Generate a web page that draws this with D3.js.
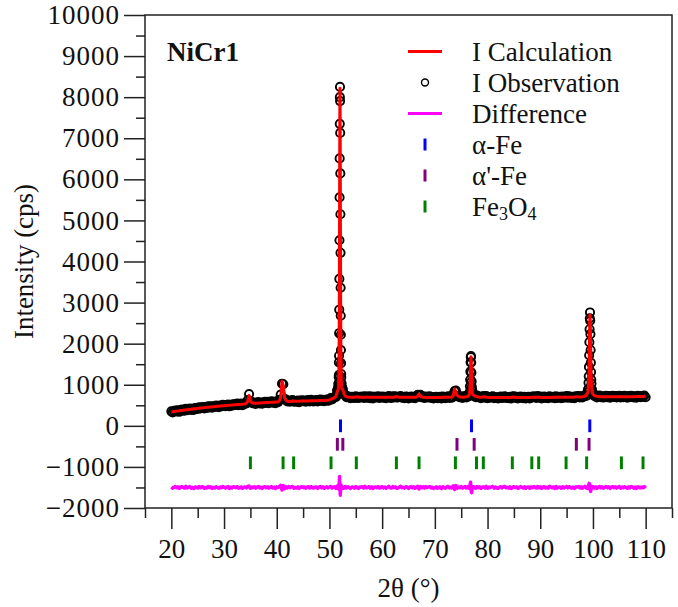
<!DOCTYPE html>
<html>
<head>
<meta charset="utf-8">
<script src="https://cdn.jsdelivr.net/npm/d3@7"></script>
<style>
  body { margin: 0; background: #fff; }
  svg text { font-family: "Liberation Serif", Tinos, "Times New Roman", "DejaVu Serif", serif; fill: #111; }
</style>
</head>
<body>
<script>
// ---- scan blocks: start angle (°2θ) and step of each block of readings ----
const segStart = [20, 51.52, 52.75, 76.54, 77.5, 99.04, 100];
const segStep  = [0.25, 0.02, 0.25, 0.04, 0.25, 0.04, 0.25];

// calculated intensity (cps), one list per block
const iCalc = [
  [340,344,349,353, 358,362,366,371, 375,379,384,388, 393,397,401,406,
   410,414,418,421, 425,429,433,436, 440,443,447,450, 453,456,460,463,
   466,469,472,475, 478,481,484,487, 490,493,495,498, 501,504,506,509,
   512,514,517,519, 522,524,527,529, 532,554,597,739, 611,568,554,548,
   550,552,554,556, 558,560,562,564, 566,568,570,571, 573,575,576,578,
   580,581,608,704, 1086,967,679,620, 602,593,594,595, 604,607,598,599,
   600,601,602,603, 603,604,605,606, 607,608,609,610, 610,611,612,613,
   614,615,616,617, 619,620,621,623, 630,648,660,668, 685,727,835],
  [846,849,853,858,863,869,882,896,918,948,
   992,1054,1140,1277,1474,1761,2160,2707,3427,4306,
   5290,6330,7270,7960,8220,
   7965,7280,6335,5290,4300,
   3420,2710,2171,1775,1485,
   1288,1153,1067,1009,965,
   935,916,902,894,889,
   888,889,890,893,894],
  [786,
   726,709,703,698, 695,694,694,693, 700,708,700,694, 693,693,693,693,
   694,694,694,694, 694,695,695,695, 695,695,695,695, 695,695,695,695,
   695,695,694,694, 694,696,705,712, 703,696,694,694, 694,693,693,693,
   693,693,693,693, 693,694,700,723, 773,728,703,696, 693,692,692,692,
   692,692,692,692, 692,692,692,692, 692,692,693,693, 693,693,694,694,
   695,700,735,895, 815,745,715,703, 699,698,698,699,
   707,717,749],
  [765,793,839,917,1040,1211,1415,1601,1680,1601,
   1415,1211,1040,917,839,793,765,760,754,752],
  [735,715,
   712,702,698,696, 700,706,700,695, 693,692,692,692, 691,691,691,691,
   690,690,690,690, 690,690,690,690, 690,690,695,702, 698,692,690,690,
   690,690,690,690, 690,690,690,690, 690,692,697,695, 692,693,698,700,
   694,691,691,691, 691,691,692,692, 692,692,693,693, 693,694,694,694,
   695,695,697,700, 698,696,696,697, 697,698,700,705, 706,703,701,703,
   710,715,725,745,
   805],
  [829,865,921,1010,1148,1349,1617,1946,2292,2577,2700,
   2577,2292,1946,1617,1349,1148,1010,921,865,829],
  [765,738,725,716, 712,709,708,707, 707,707,707,707, 707,708,708,708,
   708,708,708,708, 709,712,710,709, 709,709,709,709, 710,710,710,710,
   710,711,711,711, 711,712,714,713,
   712]
];

// difference I(obs) − I(calc) (cps), same blocks
const iDiff = [
  [12,-18,5,22, -9,15,-25,8, 19,-4,-16,27, -12,6,21,-20, 3,-27,14,9,
   -15,24,-7,11, 18,-21,2,-13, 25,-6,16,-24, 7,-11,20,-3, -22,13,-9,26,
   4,-17,10,21, -26,8,-14,17, 11,-5,23,-19, -8,16,-23,6, 14,-10,28,35,
   -20,12,-6,19, -16,9,24,-12, 5,-23,13,20, -9,17,-18,4, 22,-14,8,-25,
   15,-4,26,55, -60,45,-30,18, -11,20,-7,13, 24,-19,3,-12, 16,-24,10,21,
   -5,12,-20,7, 19,-13,25,-8, -17,6,14,-22, 9,23,-10,17, -21,4,18,-14,
   11,26,-16,8, 20,-25,35],
  [18,-22,10,26,-14,30,-8,22,-28,15,
   35,-20,48,-40,70,-55,95,120,150,210,
   270,180,80,40,30,
   -60,-150,-190,-140,-90,
   -60,-30,45,70,40,
   -25,30,-20,15,-28,
   22,-12,26,-18,9,
   -24,17,-8,21,-15],
  [-20,
   25,-12,18,-6, -23,14,7,-17, 21,-9,-24,12, 5,19,-15,26, -11,-3,22,-19,
   16,-26,9,13, -7,24,-18,4, 20,-13,11,-22, 8,27,-10,-16, 23,-5,15,-21,
   -14,10,28,-8, 6,-19,17,12, -25,3,21,-11, 14,-20,8,30, -35,25,-9,18,
   -16,22,-4,11, 24,-12,7,-23, -6,17,-21,9, 13,-27,19,2, -18,10,26,-13,
   7,-15,40,-50, 45,-20,12,-9, 21,-17,5,24,
   -14,19,-26],
  [-15,22,-30,45,80,110,130,70,20,-60,
   -120,-130,-90,-50,25,-18,14,-22,10,17],
  [12,-19,
   23,-8,15,-24, 6,18,-13,27, -20,9,-5,16, 25,-17,11,-9, -22,4,20,-14,
   13,26,-10,7, -18,15,-27,10, 21,-6,17,-23, -11,24,3,-16, 19,-21,8,14,
   -26,12,-7,22, 5,-15,25,-10, 17,-24,9,20, -13,6,-19,28, 10,-8,16,-22,
   24,-17,2,13, -20,19,-11,7, 26,-14,21,-5, -18,11,-25,15, 8,23,-12,18,
   -21,9,27,-16,
   20],
  [-18,25,-30,40,60,85,100,90,60,40,60,
   -20,-60,-100,-80,-40,-20,18,-25,12,-14],
  [22,-13,17,-24, 9,26,-11,14, -19,5,21,-8, 15,-23,10,24, -6,18,-16,7,
   25,-20,12,-10, 19,-4,-22,16, -12,23,8,-18, 11,-26,20,3, -15,14,-9,22,
   -17]
];

// Bragg reflection positions (°2θ) of each phase
const alphaFe      = [52.1, 76.95, 99.4];
const alphaPrimeFe = [51.5, 52.54, 74.2, 77.46, 96.85, 99.26];
const fe3o4        = [35.0, 41.2, 43.2, 50.3, 55.1, 62.7, 67.0, 73.9, 77.9,
                      79.2, 84.7, 88.4, 89.7, 94.9, 98.8, 105.4, 109.5];

// axis ticks
const xTicks      = [20, 30, 40, 50, 60, 70, 80, 90, 100, 110];
const xMinorTicks = [15, 25, 35, 45, 55, 65, 75, 85, 95, 105, 115];
const yTicks      = [-2000, -1000, 0, 1000, 2000, 3000, 4000, 5000, 6000, 7000, 8000, 9000, 10000];
const yMinorTicks = [-1500, -500, 500, 1500, 2500, 3500, 4500, 5500, 6500, 7500, 8500, 9500];

// ---- assemble the scan ----
const scan = [];
segStart.forEach((t0, k) => {
  const n = Math.min(iCalc[k].length, iDiff[k].length);
  for (let i = 0; i < n; i++) {
    const t = +(t0 + i * segStep[k]).toFixed(2);
    scan.push({ t, calc: iCalc[k][i], diff: iDiff[k][i], obs: iCalc[k][i] + iDiff[k][i] });
  }
});

// ---- layout ----
const W = 678, H = 607;
const mLeft = 145, mRight = 672, mTop = 15, mBottom = 508;
const DIFF_BASE = -1500;           // zero line of the difference curve
const TICK_HALF = 155;             // half height of reflection markers (cps)
const FONT = '"Liberation Serif", Tinos, "Times New Roman", "DejaVu Serif", serif';
const phases = [
  { pos: alphaFe,      color: "#0000ff", level: 0 },
  { pos: alphaPrimeFe, color: "#800080", level: -450 },
  { pos: fe3o4,        color: "#008000", level: -900 }
];

const svg = d3.select("body").append("svg").attr("width", W).attr("height", H)
  .attr("font-family", FONT);
svg.append("rect").attr("width", W).attr("height", H).attr("fill", "#fff");

const x = d3.scaleLinear().domain([15, 115]).range([mLeft, mRight]);
const y = d3.scaleLinear().domain([-2000, 10000]).range([mBottom, mTop]);

const axisColor = "#222";
const fmt = d3.format("d");

// x axis
const gxMinor = svg.append("g").attr("transform", `translate(0,${mBottom})`)
  .call(d3.axisBottom(x).tickValues(xMinorTicks).tickSize(10).tickFormat(""));
const gx = svg.append("g").attr("transform", `translate(0,${mBottom})`)
  .call(d3.axisBottom(x).tickValues(xTicks).tickSize(21).tickPadding(10).tickFormat(fmt));
// y axis
const gyMinor = svg.append("g").attr("transform", `translate(${mLeft},0)`)
  .call(d3.axisLeft(y).tickValues(yMinorTicks).tickSize(9).tickFormat(""));
const gy = svg.append("g").attr("transform", `translate(${mLeft},0)`)
  .call(d3.axisLeft(y).tickValues(yTicks).tickSize(21).tickPadding(4).tickFormat(fmt));

[gxMinor, gx, gyMinor, gy].forEach(g => {
  g.attr("font-family", FONT).attr("font-size", 27);
  g.select(".domain").remove();
  g.selectAll("line").attr("stroke", axisColor).attr("stroke-width", 1.5);
  g.selectAll("text").attr("fill", "#111");
});
gy.selectAll("text").style("letter-spacing", "1px");

// frame
svg.append("rect")
  .attr("x", mLeft).attr("y", mTop)
  .attr("width", mRight - mLeft).attr("height", mBottom - mTop)
  .attr("fill", "none").attr("stroke", axisColor).attr("stroke-width", 1.5);

// axis titles
svg.append("text")
  .attr("x", (mLeft + mRight) / 2).attr("y", 597)
  .attr("text-anchor", "middle").attr("font-size", 27)
  .text("2θ (°)");
svg.append("text")
  .attr("transform", `translate(33,${(mTop + mBottom) / 2}) rotate(-90)`)
  .attr("text-anchor", "middle").attr("font-size", 27)
  .text("Intensity (cps)");

const plot = svg.append("g");

// observed points
plot.append("g").selectAll("circle").data(scan).join("circle")
  .attr("cx", d => x(d.t)).attr("cy", d => y(d.obs)).attr("r", 4.1)
  .attr("fill", "none").attr("stroke", "#000").attr("stroke-width", 1.9);

// calculated profile
plot.append("path").datum(scan)
  .attr("fill", "none").attr("stroke", "#ff0000").attr("stroke-width", 3)
  .attr("stroke-linejoin", "round")
  .attr("d", d3.line().x(d => x(d.t)).y(d => y(d.calc)));

// reflection markers
phases.forEach(p => {
  plot.append("g").selectAll("line").data(p.pos).join("line")
    .attr("x1", d => x(d)).attr("x2", d => x(d))
    .attr("y1", y(p.level + TICK_HALF)).attr("y2", y(p.level - TICK_HALF))
    .attr("stroke", p.color).attr("stroke-width", 3);
});

// difference curve
plot.append("path").datum(scan)
  .attr("fill", "none").attr("stroke", "#ff00ff").attr("stroke-width", 3.4)
  .attr("stroke-linejoin", "round")
  .attr("d", d3.line().x(d => x(d.t)).y(d => y(d.diff + DIFF_BASE)));

// sample name
svg.append("text").attr("x", 167).attr("y", 61)
  .attr("font-size", 27).attr("font-weight", "bold").text("NiCr1");

// legend
const legendRows = [
  { label: "I Calculation", kind: "line",   color: "#ff0000" },
  { label: "I Observation", kind: "circle", color: "#000" },
  { label: "Difference",    kind: "line",   color: "#ff00ff" },
  { label: "α-Fe",          kind: "tick",   color: "#0000ff" },
  { label: "α'-Fe",         kind: "tick",   color: "#800080" },
  { label: "Fe3O4",         kind: "tick",   color: "#008000" }
];
const lg = svg.append("g");
legendRows.forEach((r, i) => {
  const cy = 51.5 + i * 31;
  const sx = 425;
  if (r.kind === "line") {
    lg.append("line").attr("x1", sx - 17).attr("x2", sx + 17).attr("y1", cy).attr("y2", cy)
      .attr("stroke", r.color).attr("stroke-width", 3);
  } else if (r.kind === "circle") {
    lg.append("circle").attr("cx", sx).attr("cy", cy).attr("r", 3.5)
      .attr("fill", "none").attr("stroke", r.color).attr("stroke-width", 1.4);
  } else {
    lg.append("line").attr("x1", sx).attr("x2", sx).attr("y1", cy - 6).attr("y2", cy + 6)
      .attr("stroke", r.color).attr("stroke-width", 3);
  }
  const t = lg.append("text").attr("x", 472).attr("y", cy + 9).attr("font-size", 27);
  if (r.label === "Fe3O4") {
    t.append("tspan").text("Fe");
    t.append("tspan").attr("dy", 4).attr("font-size", 18).text("3");
    t.append("tspan").attr("dy", -4).text("O");
    t.append("tspan").attr("dy", 4).attr("font-size", 18).text("4");
  } else {
    t.text(r.label);
  }
});
</script>
</body>
</html>
